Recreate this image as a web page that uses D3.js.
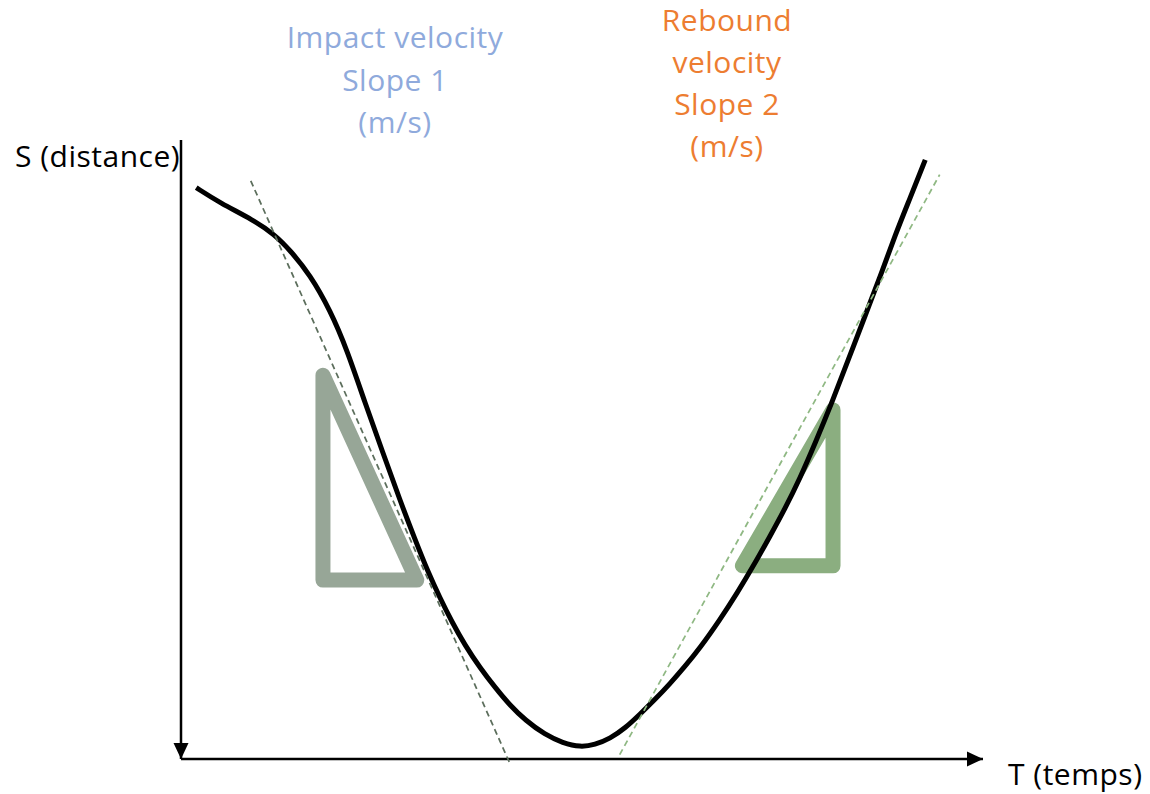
<!DOCTYPE html>
<html>
<head>
<meta charset="utf-8">
<script src="https://cdn.jsdelivr.net/npm/d3@7"></script>
<style>
  html, body { margin: 0; padding: 0; background: #fff; }
  svg { display: block; }
  text { font-family: "Open Sans", Lato, sans-serif; letter-spacing: 0.5px; }
</style>
</head>
<body>
<svg id="chart" width="1150" height="794"></svg>
<script>
// Distance S against time T during an impact and rebound (arbitrary units 0–10)
const trajectoryT = [0.19, 0.49, 0.90, 1.17, 1.36, 1.61, 1.86, 2.07, 2.29, 2.52, 2.73, 2.92, 3.08, 3.23, 3.38, 3.54, 3.73, 3.92, 4.10, 4.29, 4.54, 4.76, 4.98, 5.16, 5.35, 5.54, 5.72, 5.91, 6.10, 6.28, 6.47, 6.72, 6.93, 7.16, 7.34, 7.53, 7.72, 7.91, 8.12, 8.32, 8.53, 8.72, 8.90, 9.09, 9.28];
const trajectoryS = [9.23, 8.98, 8.71, 8.47, 8.22, 7.82, 7.25, 6.61, 5.77, 4.94, 4.18, 3.54, 3.02, 2.60, 2.21, 1.84, 1.47, 1.15, 0.87, 0.63, 0.39, 0.26, 0.19, 0.23, 0.33, 0.50, 0.72, 0.96, 1.22, 1.49, 1.79, 2.25, 2.67, 3.17, 3.59, 4.04, 4.54, 5.11, 5.77, 6.45, 7.16, 7.80, 8.45, 9.06, 9.68];

// Tangent lines: impact (slope 1) and rebound (slope 2)
const tangentImpactT = [0.87, 4.10];
const tangentImpactS = [9.34, -0.07];
const tangentReboundT = [5.47, 9.46];
const tangentReboundS = [0.07, 9.44];

// Slope triangles
const triangleImpactT = [1.77, 1.77, 2.94];
const triangleImpactS = [6.20, 2.89, 2.89];
const triangleReboundT = [7.00, 8.13, 8.13];
const triangleReboundS = [3.12, 3.12, 5.64];

// Annotations
const impactLabel = ["Impact velocity", "Slope 1", "(m/s)"];
const reboundLabel = ["Rebound", "velocity", "Slope 2", "(m/s)"];
const yAxisLabel = "S (distance)";
const xAxisLabel = "T (temps)";

const svg = d3.select("#chart");

const x = d3.scaleLinear().domain([0, 10]).range([181, 983]);
const y = d3.scaleLinear().domain([0, 10]).range([759, 140]);

const defs = svg.append("defs");
defs.append("marker")
  .attr("id", "arrow")
  .attr("viewBox", "0 0 16 16")
  .attr("refX", 16).attr("refY", 8)
  .attr("markerWidth", 16).attr("markerHeight", 16)
  .attr("markerUnits", "userSpaceOnUse")
  .attr("orient", "auto")
  .append("path")
  .attr("d", "M0,0.5 L16,8 L0,15.5 Z")
  .attr("fill", "#000");

const zip = (ts, ss) => ts.map((t, i) => [t, ss[i]]);

// Axes: S runs downward from the top, T runs to the right
svg.append("line")
  .attr("x1", x(0)).attr("y1", y(10))
  .attr("x2", x(0)).attr("y2", y(0))
  .attr("stroke", "#000").attr("stroke-width", 2.5)
  .attr("marker-end", "url(#arrow)");

svg.append("line")
  .attr("x1", x(0)).attr("y1", y(0))
  .attr("x2", x(10)).attr("y2", y(0))
  .attr("stroke", "#000").attr("stroke-width", 2.5)
  .attr("marker-end", "url(#arrow)");

const straight = d3.line().x(d => x(d[0])).y(d => y(d[1]));

// Slope triangles
svg.append("path")
  .attr("d", straight(zip(triangleImpactT, triangleImpactS)) + "Z")
  .attr("fill", "none")
  .attr("stroke", "#97a697")
  .attr("stroke-width", 15)
  .attr("stroke-linejoin", "round");

svg.append("path")
  .attr("d", straight(zip(triangleReboundT, triangleReboundS)) + "Z")
  .attr("fill", "none")
  .attr("stroke", "#8bae80")
  .attr("stroke-width", 15)
  .attr("stroke-linejoin", "round");

// Trajectory (B-spline smoothing through the sampled positions)
const smooth = d3.line()
  .x(d => x(d[0])).y(d => y(d[1]))
  .curve(d3.curveBasis);

svg.append("path")
  .attr("d", smooth(zip(trajectoryT, trajectoryS)))
  .attr("fill", "none")
  .attr("stroke", "#000")
  .attr("stroke-width", 5)
  .attr("stroke-linecap", "butt");

// Tangents
svg.append("path")
  .attr("d", straight(zip(tangentImpactT, tangentImpactS)))
  .attr("fill", "none")
  .attr("stroke", "#5c6e5c")
  .attr("stroke-width", 1.75)
  .attr("stroke-dasharray", "6,4");

svg.append("path")
  .attr("d", straight(zip(tangentReboundT, tangentReboundS)))
  .attr("fill", "none")
  .attr("stroke", "#8fb883")
  .attr("stroke-width", 1.75)
  .attr("stroke-dasharray", "6,4");

// Labels
const labelSize = 30;

svg.append("g")
  .selectAll("text")
  .data(impactLabel)
  .join("text")
  .attr("x", 395)
  .attr("y", (d, i) => 48 + i * 42.5)
  .attr("text-anchor", "middle")
  .attr("font-size", labelSize)
  .attr("fill", "#8faadc")
  .text(d => d);

svg.append("g")
  .selectAll("text")
  .data(reboundLabel)
  .join("text")
  .attr("x", 727)
  .attr("y", (d, i) => 31 + i * 42)
  .attr("text-anchor", "middle")
  .attr("font-size", labelSize)
  .attr("fill", "#ed7d31")
  .text(d => d);

svg.append("text")
  .attr("x", 15).attr("y", 167)
  .attr("font-size", labelSize)
  .attr("fill", "#000")
  .text(yAxisLabel);

svg.append("text")
  .attr("x", 1008).attr("y", 785)
  .attr("font-size", labelSize)
  .attr("fill", "#000")
  .text(xAxisLabel);
</script>
</body>
</html>
